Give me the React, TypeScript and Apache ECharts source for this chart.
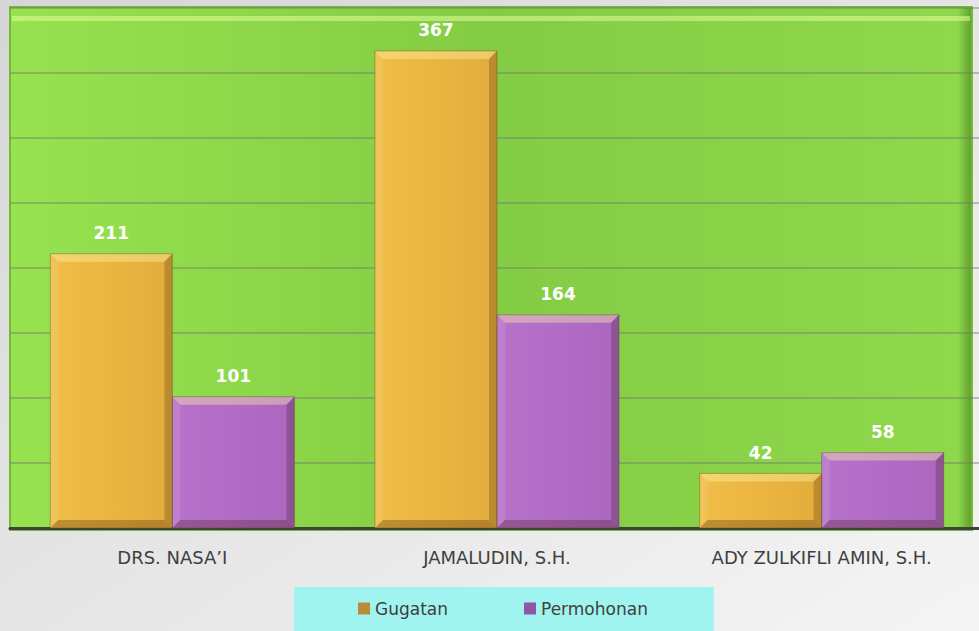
import React, { useEffect, useRef } from "react";
import * as echarts from "echarts";

const categories = ["DRS. NASA’I", "JAMALUDIN, S.H.", "ADY ZULKIFLI AMIN, S.H."];
const gugatan = [211, 367, 42];
const permohonan = [101, 164, 58];
const seriesNames = ["Gugatan", "Permohonan"];

const FONT = "'DejaVu Sans', sans-serif";
const GAP = 0.248;

export default function App() {
  const ref = useRef<HTMLDivElement>(null);
  useEffect(() => {
    if (!ref.current) return;
    const chart = echarts.init(ref.current, null, { renderer: "svg" });
    const lg = (c: string[]) =>
      new echarts.graphic.LinearGradient(0, 0, 1, 0, [
        { offset: 0, color: c[0] },
        { offset: 0.5, color: c[1] },
        { offset: 1, color: c[2] },
      ]);
    const bevelData = [
      ...gugatan.map((v, i) => [i, v, -1]),
      ...permohonan.map((v, i) => [i, v, 1]),
    ];
    const renderBevel = (params: any, api: any) => {
      const idx = api.value(0);
      const val = api.value(1);
      const side = api.value(2);
      const base = api.coord([idx, 0]);
      const top = api.coord([idx, val]);
      const band = api.size([1, 0])[0];
      const w = (band * (1 - GAP)) / 2;
      const x0 = side < 0 ? base[0] - w : base[0];
      const x1 = x0 + w;
      const y0 = top[1];
      const y1 = base[1];
      const b = Math.min(8, (y1 - y0) / 2);
      const poly = (pts: number[][], fill: string) => ({
        type: "polygon",
        shape: { points: pts },
        style: { fill },
      });
      return {
        type: "group",
        children: [
          poly([[x0, y0], [x1, y0], [x1 - b, y0 + b], [x0 + b, y0 + b]], "rgba(255,250,170,0.38)"),
          poly([[x0, y0], [x0 + b, y0 + b], [x0 + b, y1 - b], [x0, y1]], "rgba(255,255,255,0.10)"),
          poly([[x1, y0], [x1 - b, y0 + b], [x1 - b, y1 - b], [x1, y1]], "rgba(40,20,0,0.22)"),
          poly([[x0, y1], [x1, y1], [x1 - b, y1 - b], [x0 + b, y1 - b]], "rgba(60,20,0,0.28)"),
          {
            type: "rect",
            shape: { x: x0, y: y0, width: x1 - x0, height: y1 - y0 },
            style: { fill: "none", stroke: "rgba(90,60,20,0.35)", lineWidth: 1 },
          },
        ],
      };
    };
    const labelStyle = {
      show: true,
      position: "top",
      distance: 12,
      color: "#ffffff",
      fontFamily: FONT,
      fontWeight: "bold",
      fontSize: 17,
    };
    chart.setOption({
      animation: false,
      backgroundColor: new echarts.graphic.LinearGradient(0, 0, 1, 1, [
        { offset: 0, color: "#d6d6d6" },
        { offset: 1, color: "#f5f5f5" },
      ]),
      graphic: [
        {
          type: "rect",
          z: -1,
          shape: { x: 10, y: 7, width: 962, height: 523 },
          style: {
            fill: new echarts.graphic.LinearGradient(0, 0, 1, 0, [
              { offset: 0, color: "#96e24f" },
              { offset: 0.5, color: "#84cc44" },
              { offset: 0.985, color: "#8fd84c" },
              { offset: 1, color: "#5f9e2c" },
            ]),
            stroke: "#76b83a",
            lineWidth: 2,
          },
        },
        {
          type: "rect",
          z: -1,
          shape: { x: 12, y: 16, width: 958, height: 5 },
          style: { fill: "rgba(220,255,150,0.55)" },
        },
      ],
      grid: { left: 10, top: 8, width: 974, height: 520, containLabel: false },
      legend: {
        left: 294,
        top: 587,
        padding: [13, 66, 16, 64],
        backgroundColor: "#a0f4f0",
        itemWidth: 12,
        itemHeight: 12,
        itemGap: 76,
        icon: "rect",
        textStyle: { fontFamily: FONT, fontSize: 17, color: "#404040" },
        data: [
          { name: seriesNames[0], itemStyle: { color: "#b88a3a" } },
          { name: seriesNames[1], itemStyle: { color: "#8e55a8" } },
        ],
      },
      xAxis: {
        type: "category",
        data: categories,
        axisLine: { show: true, lineStyle: { color: "#404040", width: 3 } },
        axisTick: { show: false },
        axisLabel: { fontFamily: FONT, fontSize: 18, color: "#404040", margin: 20 },
      },
      yAxis: {
        type: "value",
        min: 0,
        max: 400,
        interval: 50,
        axisLabel: { show: false },
        axisLine: { show: false },
        axisTick: { show: false },
        splitLine: { show: true, lineStyle: { color: "rgba(110,120,110,0.55)", width: 1.5 } },
      },
      series: [
        {
          name: seriesNames[0],
          type: "bar",
          data: gugatan,
          barGap: "0%",
          barCategoryGap: GAP * 100 + "%",
          itemStyle: { color: lg(["#efbe48", "#ebb541", "#e2ac3c"]) },
          label: labelStyle,
        },
        {
          name: seriesNames[1],
          type: "bar",
          data: permohonan,
          itemStyle: { color: lg(["#b872ca", "#b36cc6", "#ab66be"]) },
          label: labelStyle,
        },
        {
          type: "custom",
          silent: true,
          z: 3,
          renderItem: renderBevel,
          data: bevelData,
          encode: { x: 0, y: 1 },
        },
      ],
    });
    return () => chart.dispose();
  }, []);
  return (
    <div style={{ position: "absolute", left: 0, top: 0, width: 979, height: 631, overflow: "hidden" }}>
      <div ref={ref} style={{ width: 1000, height: 631 }} />
    </div>
  );
}
